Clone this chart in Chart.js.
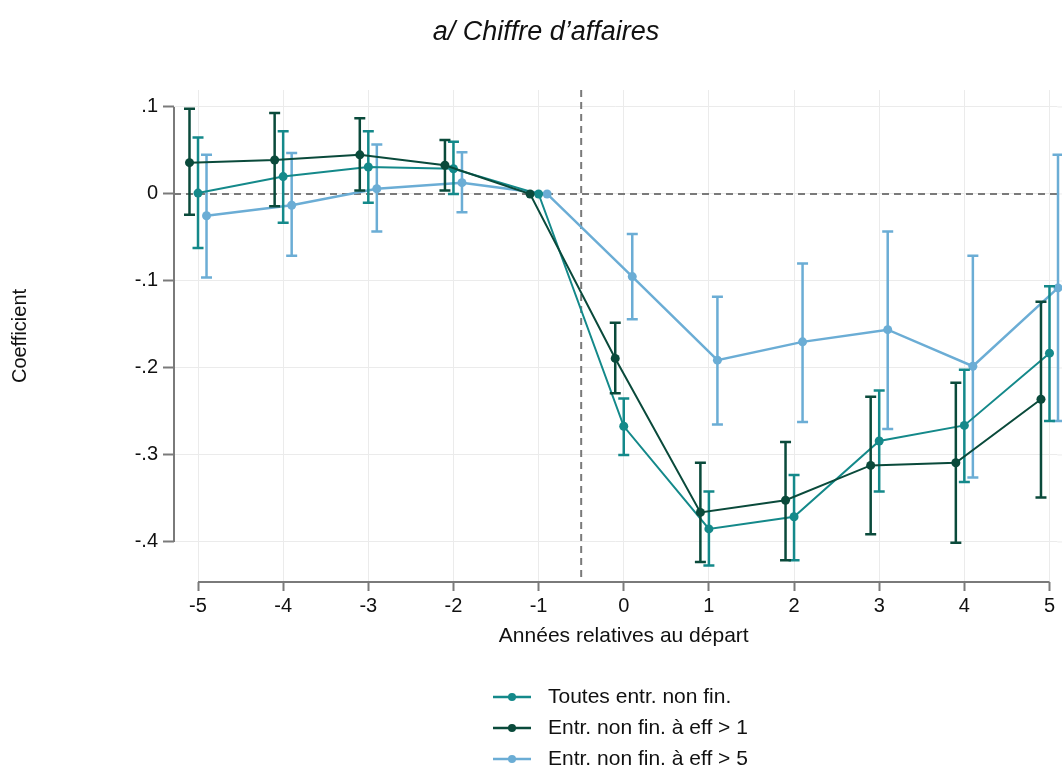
<!DOCTYPE html>
<html>
<head>
<meta charset="utf-8">
<script src="https://cdn.jsdelivr.net/npm/chart.js@4.4.1/dist/chart.umd.min.js"></script>
<style>
  body { margin: 0; background: #fff; }
  #wrap { width: 1062px; height: 767px; }
</style>
</head>
<body>
<div id="wrap"><canvas id="chart"></canvas></div>
<script>
// years relative to departure
const years = [-5, -4, -3, -2, -1, 0, 1, 2, 3, 4, 5];
const yTicks = [0.1, 0, -0.1, -0.2, -0.3, -0.4];

// Toutes entr. non fin.
const allCoef = [0.001, 0.020, 0.031, 0.029, 0, -0.267, -0.385, -0.371, -0.284, -0.266, -0.183];
const allLo   = [-0.062, -0.033, -0.010, 0.000, 0, -0.300, -0.427, -0.421, -0.342, -0.331, -0.261];
const allHi   = [0.065, 0.072, 0.072, 0.060, 0, -0.235, -0.342, -0.323, -0.226, -0.202, -0.106];

// Entr. non fin. à eff > 1
const eff1Coef = [0.036, 0.039, 0.045, 0.033, 0, -0.189, -0.366, -0.352, -0.312, -0.309, -0.236];
const eff1Lo   = [-0.024, -0.014, 0.004, 0.004, 0, -0.229, -0.423, -0.421, -0.391, -0.401, -0.349];
const eff1Hi   = [0.098, 0.093, 0.087, 0.062, 0, -0.148, -0.309, -0.285, -0.233, -0.217, -0.124];

// Entr. non fin. à eff > 5
const eff5Coef = [-0.025, -0.013, 0.006, 0.013, 0, -0.095, -0.191, -0.170, -0.156, -0.198, -0.108];
const eff5Lo   = [-0.096, -0.071, -0.043, -0.021, 0, -0.144, -0.265, -0.262, -0.270, -0.326, -0.261];
const eff5Hi   = [0.045, 0.047, 0.057, 0.048, 0, -0.046, -0.118, -0.080, -0.043, -0.071, 0.045];

const labels = ['Toutes entr. non fin.', 'Entr. non fin. à eff > 1', 'Entr. non fin. à eff > 5'];

const FONT = '"Liberation Sans", Arial, sans-serif';
const AXIS = '#7a7a7a';

function series(key, coef, lo, hi, color, shift, width) {
  return {
    label: labels[key],
    legendRow: key,
    data: years.map((y, i) => ({ x: y + shift, y: coef[i] })),
    lo: lo, hi: hi, shift: shift,
    borderColor: color,
    backgroundColor: color,
    borderWidth: width,
    pointRadius: 4.5,
    pointHoverRadius: 4.5,
    pointBorderWidth: 0,
    tension: 0,
    clip: false
  };
}

// error bars, drawn just before each dataset's line
const errorBars = {
  id: 'errorBars',
  beforeDatasetDraw(chart, args) {
    const ds = chart.data.datasets[args.index];
    const xs = chart.scales.x, ys = chart.scales.y, ctx = chart.ctx;
    ctx.save();
    ctx.strokeStyle = ds.borderColor;
    ctx.lineWidth = 2.5;
    years.forEach((yr, i) => {
      if (ds.hi[i] <= ds.lo[i]) return;
      const px = xs.getPixelForValue(yr + ds.shift);
      const top = ys.getPixelForValue(ds.hi[i]);
      const bot = ys.getPixelForValue(ds.lo[i]);
      ctx.beginPath();
      ctx.moveTo(px, top); ctx.lineTo(px, bot);
      ctx.moveTo(px - 5.5, top); ctx.lineTo(px + 5.5, top);
      ctx.moveTo(px - 5.5, bot); ctx.lineTo(px + 5.5, bot);
      ctx.stroke();
    });
    ctx.restore();
  }
};

// axis lines, reference lines, titles and legend
const decor = {
  id: 'decor',
  beforeDatasetsDraw(chart) {
    const {ctx, chartArea: a, scales: {x, y}} = chart;
    ctx.save();
    // light grid continues to the right edge
    ctx.strokeStyle = '#ebebeb';
    ctx.lineWidth = 1;
    ctx.beginPath();
    yTicks.forEach(v => {
      const py = y.getPixelForValue(v);
      ctx.moveTo(a.right, py); ctx.lineTo(chart.width, py);
    });
    ctx.stroke();

    ctx.strokeStyle = AXIS;
    ctx.lineWidth = 2;
    ctx.beginPath();
    ctx.moveTo(a.left, y.getPixelForValue(yTicks[0]));
    ctx.lineTo(a.left, y.getPixelForValue(yTicks[yTicks.length - 1]));
    ctx.moveTo(x.getPixelForValue(years[0]), a.bottom);
    ctx.lineTo(x.getPixelForValue(years[years.length - 1]), a.bottom);
    ctx.stroke();
    ctx.setLineDash([7, 5]);
    ctx.beginPath();
    const y0 = y.getPixelForValue(0);
    ctx.moveTo(a.left, y0); ctx.lineTo(chart.width, y0);
    const xv = x.getPixelForValue(-0.5);
    ctx.moveTo(xv, a.top); ctx.lineTo(xv, a.bottom);
    ctx.stroke();
    ctx.restore();
  },
  afterDraw(chart) {
    const {ctx, scales: {x}} = chart;
    ctx.save();
    ctx.fillStyle = '#111';
    ctx.font = 'italic 27px ' + FONT;
    ctx.textAlign = 'center';
    ctx.textBaseline = 'middle';
    ctx.fillText('a/ Chiffre d\u2019affaires', 546, 32);

    ctx.font = '21px ' + FONT;
    const midX = (x.getPixelForValue(years[0]) + x.getPixelForValue(years[years.length - 1])) / 2;
    ctx.fillText('Années relatives au départ', midX, 636);

    ctx.textAlign = 'left';
    chart.data.datasets.forEach(ds => {
      const ly = 697 + ds.legendRow * 31;
      ctx.strokeStyle = ds.borderColor;
      ctx.lineWidth = 2.5;
      ctx.beginPath();
      ctx.moveTo(493, ly); ctx.lineTo(531, ly);
      ctx.stroke();
      ctx.fillStyle = ds.borderColor;
      ctx.beginPath();
      ctx.arc(512, ly, 4, 0, Math.PI * 2);
      ctx.fill();
      ctx.fillStyle = '#111';
      ctx.fillText(ds.label, 548, ly);
    });
    ctx.restore();
  }
};

new Chart(document.getElementById('chart'), {
  type: 'line',
  data: {
    datasets: [
      series(1, eff1Coef, eff1Lo, eff1Hi, '#0a4a3b', -0.1, 2),
      series(0, allCoef, allLo, allHi, '#14898a', 0, 2),
      series(2, eff5Coef, eff5Lo, eff5Hi, '#6badd5', 0.1, 2.5)
    ]
  },
  options: {
    responsive: true,
    maintainAspectRatio: false,
    animation: false,
    layout: { padding: { top: 90, bottom: 119, left: 0, right: 0 } },
    plugins: {
      legend: { display: false },
      title: { display: false },
      tooltip: { enabled: false }
    },
    scales: {
      x: {
        type: 'linear',
        min: -5.282,
        max: 5.094,
        afterFit(scale) { scale.height = 66; },
        border: { display: false },
        grid: { color: '#ebebeb', lineWidth: 1, tickColor: AXIS, tickWidth: 2, tickLength: 9 },
        ticks: {
          stepSize: 1,
          includeBounds: false,
          padding: 3,
          color: '#111',
          font: { family: FONT, size: 20 },
          callback: v => String(Math.round(v))
        }
      },
      y: {
        min: -0.446,
        max: 0.1195,
        afterFit(scale) { scale.width = 174; },
        afterBuildTicks(scale) { scale.ticks = yTicks.map(v => ({ value: v })); },
        border: { display: false },
        grid: { color: '#ebebeb', lineWidth: 1, tickColor: AXIS, tickWidth: 2, tickLength: 11 },
        ticks: {
          padding: 5,
          color: '#111',
          font: { family: FONT, size: 20 },
          callback: v => {
            const s = String(Math.round(v * 10) / 10);
            return s.replace('0.', '.');
          }
        },
        title: {
          display: true,
          text: 'Coefficient',
          color: '#111',
          font: { family: FONT, size: 20 },
          padding: { top: 8, bottom: 0 }
        }
      }
    }
  },
  plugins: [errorBars, decor]
});
</script>
</body>
</html>
